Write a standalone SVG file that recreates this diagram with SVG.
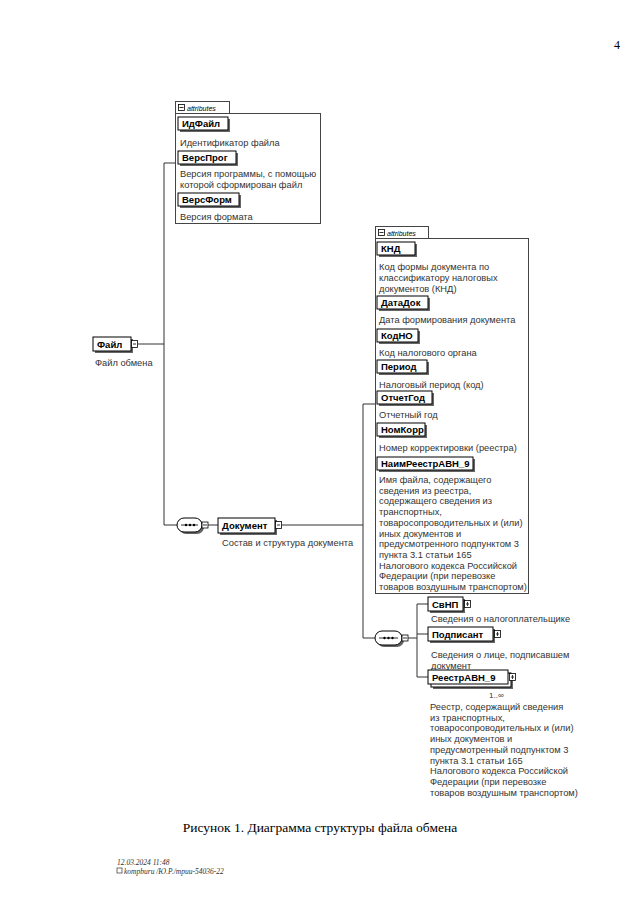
<svg xmlns="http://www.w3.org/2000/svg" width="640" height="918" viewBox="0 0 640 918">
<style>
.bg{fill:#fff}
.el{fill:#fff;stroke:#000;stroke-width:1}
.sh{fill:#666;stroke:none}
.nm{font-family:"Liberation Sans",Arial,sans-serif;font-weight:bold;font-size:9.5px;fill:#000}
.ds{font-family:"Liberation Sans",Arial,sans-serif;font-size:9.3px;fill:#333}
.ab{fill:none;stroke:#444;stroke-width:1}
.tab{fill:#fff;stroke:#444;stroke-width:1}
.tt{font-family:"Liberation Sans",Arial,sans-serif;font-style:italic;font-size:7px;fill:#000}
.ic{fill:#fff;stroke:#000;stroke-width:0.8}
.ln{fill:none;stroke:#333;stroke-width:1}
.cap{font-family:"Liberation Serif","Times New Roman",serif;font-size:13.5px;fill:#000}
.ft{font-family:"Liberation Serif","Times New Roman",serif;font-style:italic;font-size:7.5px;fill:#333}
</style>
<rect class="bg" x="0" y="0" width="640" height="918"/>
<text class="cap" x="614" y="49" style="font-size:12px">4</text>

<g id="connectors">
  <path class="ln" d="M138,344 H164 M164,163 V525 M164,163 H175 M164,525 H177"/>
  <path class="ln" d="M208,525 H218 M282,525 H363 M363,404 V638 M363,404 H375 M363,638 H375"/>
  <path class="ln" d="M408,638 H417 M417,604 V677 M417,604 H428 M417,634 H428 M417,677 H428"/>
</g>

<g id="file">
  <rect class="sh" x="95" y="339" width="38" height="14"/>
  <rect class="el" x="93" y="337" width="38" height="14"/>
  <text class="nm" x="97" y="348">Файл</text>
  <rect class="ic" x="131.5" y="340.5" width="6" height="7"/>
  <path class="ln" d="M133,344 H136"/>
  <text class="ds" x="95" y="366">Файл обмена</text>
</g>

<g id="file-attributes">
  <rect class="ab" x="175.5" y="113.5" width="145" height="110"/>
  <rect class="tab" x="175.5" y="101.5" width="54" height="12"/>
  <rect class="ic" x="178.5" y="104.5" width="6" height="6"/>
  <path class="ln" d="M179.5,107.5 H183.5"/>
  <text class="tt" x="187" y="110.5">attributes</text>
  <g id="IdFile">
    <rect class="sh" x="180" y="119" width="50" height="13"/>
    <rect class="el" x="178" y="117" width="50" height="13"/>
    <text class="nm" x="182" y="127">ИдФайл</text>
    <text class="ds" x="180" y="146">Идентификатор файла</text>
  </g>
  <g id="VersProg">
    <rect class="sh" x="180" y="153" width="58" height="13"/>
    <rect class="el" x="178" y="151" width="58" height="13"/>
    <text class="nm" x="182" y="161">ВерсПрог</text>
    <text class="ds" x="180" y="177">Версия программы, с помощью</text>
    <text class="ds" x="180" y="188">которой сформирован файл</text>
  </g>
  <g id="VersForm">
    <rect class="sh" x="180" y="195" width="61" height="13"/>
    <rect class="el" x="178" y="193" width="61" height="13"/>
    <text class="nm" x="182" y="203">ВерсФорм</text>
    <text class="ds" x="180" y="220">Версия формата</text>
  </g>
</g>

<g id="seq1">
  <rect class="sh" x="179" y="520" width="25" height="14" rx="7"/>
  <rect class="el" x="177" y="518" width="25" height="14" rx="7"/>
  <path class="ln" d="M181,525 H198"/>
  <circle cx="186" cy="525" r="1.2"/><circle cx="190" cy="525" r="1.2"/><circle cx="194" cy="525" r="1.2"/>
  <rect class="ic" x="202" y="522" width="6" height="6"/>
  <path class="ln" d="M203,525 H207"/>
</g>

<g id="document">
  <rect class="sh" x="220" y="520" width="57" height="15"/>
  <rect class="el" x="218" y="518" width="57" height="15"/>
  <text class="nm" x="222" y="529">Документ</text>
  <rect class="ic" x="275.5" y="521.5" width="6" height="7"/>
  <path class="ln" d="M277,525 H280"/>
  <text class="ds" x="222" y="546">Состав и структура документа</text>
</g>

<g id="document-attributes">
  <rect class="ab" x="375.5" y="238.5" width="153" height="355"/>
  <rect class="tab" x="375.5" y="226.5" width="53" height="12"/>
  <rect class="ic" x="378.5" y="229.5" width="6" height="6"/>
  <path class="ln" d="M379.5,232.5 H383.5"/>
  <text class="tt" x="387" y="235.5">attributes</text>
  <g id="KND">
    <rect class="sh" x="379" y="244" width="38" height="13"/>
    <rect class="el" x="377" y="242" width="38" height="13"/>
    <text class="nm" x="381" y="252">КНД</text>
    <text class="ds" x="379" y="270">Код формы документа по</text>
    <text class="ds" x="379" y="281">классификатору налоговых</text>
    <text class="ds" x="379" y="292">документов (КНД)</text>
  </g>
  <g id="DataDok">
    <rect class="sh" x="379" y="298" width="51" height="13"/>
    <rect class="el" x="377" y="296" width="51" height="13"/>
    <text class="nm" x="381" y="306">ДатаДок</text>
    <text class="ds" x="379" y="323">Дата формирования документа</text>
  </g>
  <g id="KodNO">
    <rect class="sh" x="379" y="331" width="41" height="13"/>
    <rect class="el" x="377" y="329" width="41" height="13"/>
    <text class="nm" x="381" y="339">КодНО</text>
    <text class="ds" x="379" y="356">Код налогового органа</text>
  </g>
  <g id="Period">
    <rect class="sh" x="379" y="362" width="50" height="13"/>
    <rect class="el" x="377" y="360" width="50" height="13"/>
    <text class="nm" x="381" y="370">Период</text>
    <text class="ds" x="379" y="388">Налоговый период (код)</text>
  </g>
  <g id="OtchetGod">
    <rect class="sh" x="379" y="393" width="55" height="13"/>
    <rect class="el" x="377" y="391" width="55" height="13"/>
    <text class="nm" x="381" y="401">ОтчетГод</text>
    <text class="ds" x="379" y="418">Отчетный год</text>
  </g>
  <g id="NomKorr">
    <rect class="sh" x="379" y="425" width="48" height="13"/>
    <rect class="el" x="377" y="423" width="48" height="13"/>
    <text class="nm" x="381" y="433">НомКорр</text>
    <text class="ds" x="379" y="451">Номер корректировки (реестра)</text>
  </g>
  <g id="NaimReestr">
    <rect class="sh" x="379" y="459" width="96" height="13"/>
    <rect class="el" x="377" y="457" width="96" height="13"/>
    <text class="nm" x="381" y="467">НаимРеестрАВН_9</text>
    <text class="ds" x="379" y="483">Имя файла, содержащего</text>
    <text class="ds" x="379" y="493.7">сведения из реестра,</text>
    <text class="ds" x="379" y="504.4">содержащего сведения из</text>
    <text class="ds" x="379" y="515.1">транспортных,</text>
    <text class="ds" x="379" y="525.8">товаросопроводительных и (или)</text>
    <text class="ds" x="379" y="536.5">иных документов и</text>
    <text class="ds" x="379" y="547.2">предусмотренного подпунктом 3</text>
    <text class="ds" x="379" y="557.9">пункта 3.1 статьи 165</text>
    <text class="ds" x="379" y="568.6">Налогового кодекса Российской</text>
    <text class="ds" x="379" y="579.3">Федерации (при перевозке</text>
    <text class="ds" x="379" y="590">товаров воздушным транспортом)</text>
  </g>
</g>

<g id="seq2">
  <rect class="sh" x="377" y="633" width="27" height="14" rx="7"/>
  <rect class="el" x="375" y="631" width="27" height="14" rx="7"/>
  <path class="ln" d="M379,638 H398"/>
  <circle cx="384.5" cy="638" r="1.2"/><circle cx="388.5" cy="638" r="1.2"/><circle cx="392.5" cy="638" r="1.2"/>
  <rect class="ic" x="402" y="635" width="6" height="6"/>
  <path class="ln" d="M403,638 H407"/>
</g>

<g id="SvNP">
  <rect class="sh" x="430" y="599" width="35" height="14"/>
  <rect class="el" x="428" y="597" width="35" height="14"/>
  <text class="nm" x="432" y="608">СвНП</text>
  <rect class="ic" x="464.5" y="600.5" width="6" height="7"/>
  <path class="ln" d="M466,604 H469 M467.5,602 V606"/>
  <text class="ds" x="431" y="622">Сведения о налогоплательщике</text>
</g>

<g id="Podpisant">
  <rect class="sh" x="430" y="629" width="65" height="14"/>
  <rect class="el" x="428" y="627" width="65" height="14"/>
  <text class="nm" x="432" y="638">Подписант</text>
  <rect class="ic" x="494.5" y="630.5" width="6" height="7"/>
  <path class="ln" d="M496,634 H499 M497.5,632 V636"/>
  <text class="ds" x="431" y="658">Сведения о лице, подписавшем</text>
  <text class="ds" x="431" y="669">документ</text>
</g>

<g id="ReestrAVN9">
  <rect class="sh" x="433" y="675" width="80" height="14"/>
  <rect class="el" x="431" y="673" width="80" height="14"/>
  <rect class="el" x="428" y="670" width="80" height="14"/>
  <text class="nm" x="432" y="681">РеестрАВН_9</text>
  <rect class="ic" x="509.5" y="673.5" width="6" height="7"/>
  <path class="ln" d="M511,677 H514 M512.5,675 V679"/>
  <text class="ds" x="489" y="698" style="font-size:8px">1..∞</text>
  <text class="ds" x="430" y="710">Реестр, содержащий сведения</text>
  <text class="ds" x="430" y="720.7">из транспортных,</text>
  <text class="ds" x="430" y="731.4">товаросопроводительных и (или)</text>
  <text class="ds" x="430" y="742.1">иных документов и</text>
  <text class="ds" x="430" y="752.8">предусмотренный подпунктом 3</text>
  <text class="ds" x="430" y="763.5">пункта 3.1 статьи 165</text>
  <text class="ds" x="430" y="774.2">Налогового кодекса Российской</text>
  <text class="ds" x="430" y="784.9">Федерации (при перевозке</text>
  <text class="ds" x="430" y="795.6">товаров воздушным транспортом)</text>
</g>

<text class="cap" x="320" y="832" text-anchor="middle">Рисунок 1. Диаграмма структуры файла обмена</text>
<text class="ft" x="117" y="865">12.03.2024 11:48</text>
<rect x="117" y="868" width="5" height="5" fill="none" stroke="#333" stroke-width="0.7"/>
<text class="ft" x="124" y="874">kompburu /Ю.Р./трии-54036-22</text>
</svg>
